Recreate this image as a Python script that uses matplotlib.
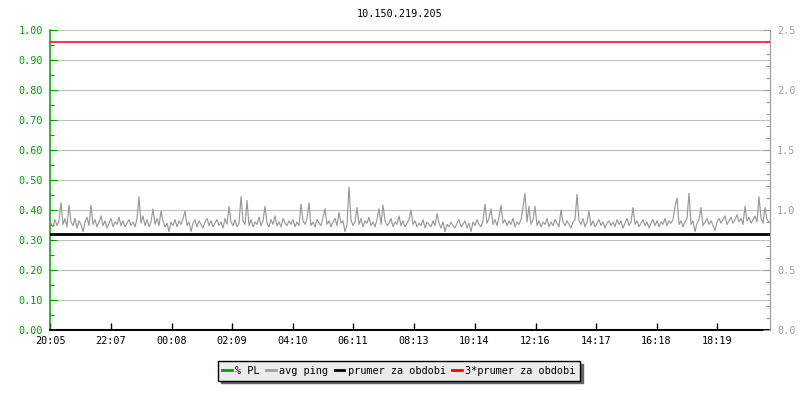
"""Ping / packet-loss graph for one host, redrawn with matplotlib."""

import numpy as np
import matplotlib

matplotlib.use("Agg")
import matplotlib.pyplot as plt
from matplotlib.ticker import MultipleLocator, FormatStrFormatter

TITLE = "10.150.219.205"

# time labels on the x axis (start 20:05, 24 h window)
TICK_LABELS = ["20:05", "22:07", "00:08", "02:09", "04:10", "06:11",
               "08:13", "10:14", "12:16", "14:17", "16:18", "18:19"]

# avg ping (ms), one sample every 4 minutes
AVG_PING = [
    0.89, 0.86, 0.92, 0.87, 0.91, 1.06, 0.88, 0.93, 0.86, 1.04, 0.90, 0.87, 0.93, 0.85, 0.91, 0.88, 0.82, 0.90, 0.94, 0.87,
    1.04, 0.88, 0.92, 0.86, 0.90, 0.95, 0.87, 0.91, 0.85, 0.89, 0.93, 0.86, 0.90, 0.88, 0.94, 0.87, 0.91, 0.86, 0.89, 0.92,
    0.87, 0.90, 0.86, 0.93, 1.11, 0.89, 0.95, 0.87, 0.92, 0.86, 0.90, 1.01, 0.88, 0.93, 0.87, 0.99, 0.91, 0.86, 0.89, 0.82,
    0.90, 0.87, 0.92, 0.86, 0.91, 0.88, 0.93, 0.99, 0.87, 0.90, 0.82, 0.89, 0.92, 0.86, 0.91, 0.88, 0.85, 0.90, 0.93, 0.87,
    0.91, 0.86, 0.89, 0.92, 0.87, 0.90, 0.85, 0.93, 0.88, 1.03, 0.90, 0.87, 0.92, 0.86, 0.89, 1.11, 0.91, 0.88, 1.08, 0.87,
    0.92, 0.86, 0.90, 0.88, 0.94, 0.87, 0.91, 1.03, 0.89, 0.86, 0.92, 0.88, 0.95, 0.87, 0.90, 0.86, 0.93, 0.89, 0.87, 0.91,
    0.88, 0.92, 0.86, 0.90, 0.87, 1.05, 0.91, 0.88, 0.93, 1.06, 0.87, 0.90, 0.86, 0.92, 0.89, 0.87, 0.94, 1.01, 0.88, 0.91,
    0.86, 0.90, 0.93, 0.87, 0.98, 0.89, 0.91, 0.82, 0.88, 1.19, 0.92, 0.87, 0.90, 1.02, 0.88, 0.93, 0.86, 0.91, 0.89, 0.94,
    0.87, 0.90, 0.86, 0.92, 1.01, 0.88, 1.04, 0.91, 0.87, 0.89, 0.93, 0.86, 0.90, 0.88, 0.95, 0.87, 0.91, 0.86, 0.89, 0.92,
    1.00, 0.88, 0.91, 0.86, 0.89, 0.87, 0.92, 0.85, 0.90, 0.88, 0.86, 0.91, 0.87, 0.97, 0.89, 0.85, 0.90, 0.82, 0.88, 0.86,
    0.90, 0.87, 0.85, 0.89, 0.92, 0.86, 0.88, 0.91, 0.85, 0.89, 0.82, 0.90, 0.87, 0.92, 0.88, 0.86, 0.91, 1.05, 0.89, 0.93,
    1.01, 0.88, 0.92, 0.87, 0.94, 1.04, 0.89, 0.92, 0.87, 0.91, 0.88, 0.93, 0.86, 0.90, 0.88, 0.92, 1.02, 1.14, 0.90, 1.03,
    0.88, 0.92, 1.03, 0.87, 0.91, 0.86, 0.90, 0.88, 0.93, 0.86, 0.90, 0.87, 0.92, 0.89, 0.86, 1.00, 0.90, 0.87, 0.91, 0.88,
    0.85, 0.90, 0.92, 1.13, 0.91, 0.88, 0.93, 0.86, 0.90, 0.99, 0.87, 0.91, 0.86, 0.89, 0.92, 0.87, 0.90, 0.85, 0.89, 0.91,
    0.87, 0.90, 0.86, 0.92, 0.88, 0.91, 0.85, 0.89, 0.93, 0.87, 0.90, 1.02, 0.88, 0.91, 0.86, 0.89, 0.92, 0.87, 0.90, 0.85,
    0.89, 0.92, 0.87, 0.91, 0.86, 0.90, 0.88, 0.93, 0.87, 0.91, 0.89, 0.92, 1.03, 1.10, 0.88, 0.91, 0.86, 0.90, 0.93, 1.14,
    0.88, 0.91, 0.82, 0.89, 0.92, 1.02, 0.87, 0.90, 0.93, 0.88, 0.91, 0.87, 0.83, 0.90, 0.93, 0.89, 0.92, 0.95, 0.88, 0.91,
    0.94, 0.89, 0.92, 0.96, 0.90, 0.93, 0.88, 1.03, 0.91, 0.94, 0.89, 0.92, 0.95, 0.90, 1.11, 0.93, 0.89, 1.02, 0.92, 0.90,
]
PACKET_LOSS = [0.0] * len(AVG_PING)   # % PL, nothing lost
MEAN_PING = 0.80                      # prumer za obdobi
STEP_MIN = 4
SPAN_MIN = 1440

GREEN = "#00a000"
GRAY_AX = "#a0a0a0"
PING_C = "#999999"
MONO = "DejaVu Sans Mono"


def label_minutes(labels):
    start = int(labels[0][:2]) * 60 + int(labels[0][3:])
    out = []
    for lab in labels:
        m = int(lab[:2]) * 60 + int(lab[3:])
        out.append((m - start) % 1440)
    return out


def main():
    plt.rcParams["font.family"] = MONO
    plt.rcParams["font.size"] = 7.3

    fig = plt.figure(figsize=(8, 4), dpi=100)
    ax = fig.add_axes([50 / 800, 70 / 400, 720 / 800, 300 / 400])
    ax2 = ax.twinx()

    t = np.arange(len(AVG_PING)) * STEP_MIN + STEP_MIN / 2

    # left axis: packet loss scale, gridlines
    ax.set_xlim(0, SPAN_MIN)
    ax.set_ylim(0, 1.0)
    ax.yaxis.set_major_locator(MultipleLocator(0.1))
    ax.yaxis.set_minor_locator(MultipleLocator(0.05))
    ax.yaxis.set_major_formatter(FormatStrFormatter("%.2f"))
    ax.grid(True, axis="y", color="#c0c0c0", lw=0.8)
    ax.set_axisbelow(True)
    ax.tick_params(axis="y", which="both", direction="in", colors=GREEN,
                   labelcolor=GREEN, pad=5)
    ax.tick_params(axis="y", which="major", length=5, width=0.8)
    ax.tick_params(axis="y", which="minor", length=3, width=0.8)
    ax.set_xticks(label_minutes(TICK_LABELS))
    ax.set_xticklabels(TICK_LABELS)
    ax.tick_params(axis="x", direction="in", length=5, width=1.0,
                   colors="black", pad=4)
    ax.spines["left"].set_color(GREEN)
    ax.spines["left"].set_linewidth(1.1)
    ax.spines["bottom"].set_color("black")
    ax.spines["bottom"].set_linewidth(1.4)
    ax.spines["top"].set_visible(False)
    ax.spines["right"].set_visible(False)

    ax.plot(t, PACKET_LOSS, color=GREEN, lw=1.5, zorder=1, label="% PL")

    # right axis: ping in ms
    ax2.set_ylim(0, 2.5)
    ax2.yaxis.set_major_locator(MultipleLocator(0.5))
    ax2.yaxis.set_minor_locator(MultipleLocator(0.1))
    ax2.yaxis.set_major_formatter(FormatStrFormatter("%.1f"))
    ax2.tick_params(axis="y", which="both", direction="in", colors=GRAY_AX,
                    labelcolor=GRAY_AX, pad=5)
    ax2.tick_params(axis="y", which="major", length=5, width=0.8)
    ax2.tick_params(axis="y", which="minor", length=3, width=0.8)
    for s in ("left", "top", "bottom"):
        ax2.spines[s].set_visible(False)
    ax2.spines["right"].set_color(GRAY_AX)
    ax2.spines["right"].set_linewidth(0.9)

    ax2.plot(t, AVG_PING, color=PING_C, lw=0.85, label="avg ping")
    ax2.axhline(MEAN_PING, color="black", lw=2.0, label="prumer za obdobi")
    ax2.axhline(3 * MEAN_PING, color="#ff0000", lw=1.1,
                label="3*prumer za obdobi")

    fig.text(0.5, 1 - 14 / 400, TITLE, ha="center", va="center",
             fontsize=7.3, color="black")

    l_pl = plt.Line2D([], [], color=GREEN, lw=2)
    l_pg = plt.Line2D([], [], color=GRAY_AX, lw=2)
    l_mn = plt.Line2D([], [], color="black", lw=2)
    l_rd = plt.Line2D([], [], color="#ff0000", lw=2)
    leg = fig.legend([l_pl, l_pg, l_mn, l_rd],
                     ["% PL", "avg ping", "prumer za obdobi", "3*prumer za obdobi"],
                     loc="center", bbox_to_anchor=(399 / 800, 1 - 371 / 400),
                     ncol=4, fontsize=7.4, frameon=True, fancybox=False,
                     shadow={"color": "#666666", "alpha": 1.0},
                     handlelength=0.9, handletextpad=0.35, columnspacing=0.65,
                     borderpad=0.45, borderaxespad=0)
    leg.get_frame().set_facecolor("#ebebeb")
    leg.get_frame().set_edgecolor("black")
    leg.get_frame().set_linewidth(1.0)
    leg.get_frame().set_alpha(1.0)

    fig.savefig("out.png", dpi=100)


if __name__ == "__main__":
    main()
